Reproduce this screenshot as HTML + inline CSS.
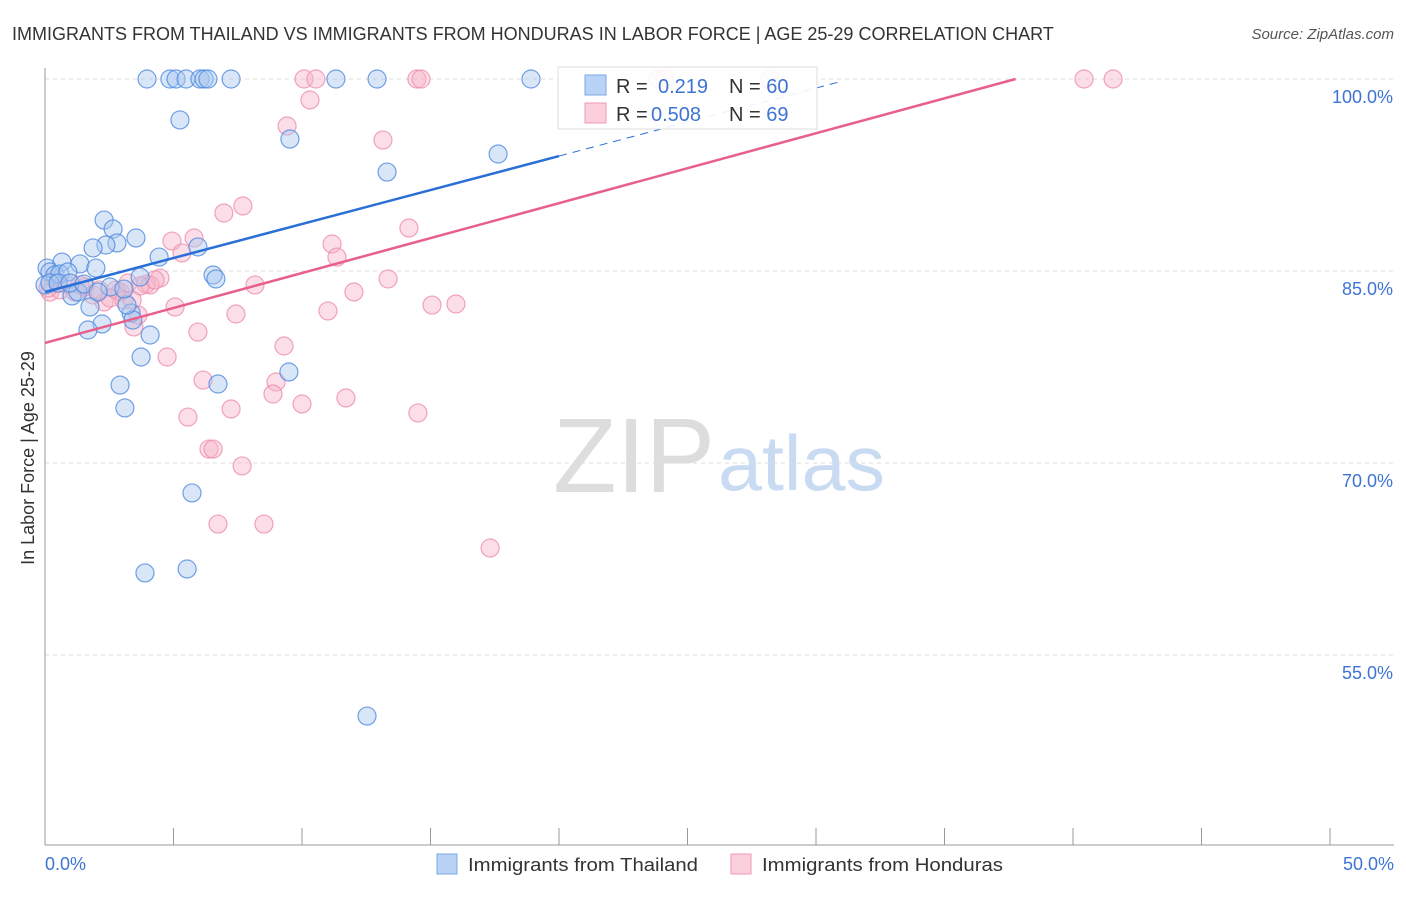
<!DOCTYPE html>
<html><head><meta charset="utf-8"><style>
body{margin:0;background:#fff;font-family:"Liberation Sans",sans-serif;}
svg text{font-family:"Liberation Sans",sans-serif;}
</style></head><body>
<svg id="chart" width="1406" height="892">
<text x="12" y="40" font-size="18" fill="#333">IMMIGRANTS FROM THAILAND VS IMMIGRANTS FROM HONDURAS IN LABOR FORCE | AGE 25-29 CORRELATION CHART</text>
<text x="1394" y="39" font-size="15" fill="#555" font-style="italic" text-anchor="end">Source: ZipAtlas.com</text>
<text x="553" y="492" font-size="106" fill="#ddd" font-family="Liberation Serif,serif" textLength="162" lengthAdjust="spacingAndGlyphs">ZIP</text>
<text x="718" y="490" font-size="78" fill="#c9daf3" textLength="167" lengthAdjust="spacingAndGlyphs">atlas</text>
<g id="grid"></g><g id="marks"></g>
<text transform="translate(34,458) rotate(-90)" font-size="18" fill="#333" text-anchor="middle">In Labor Force | Age 25-29</text>
<text x="45" y="870" font-size="18" fill="#3d74d4">0.0%</text>
<text x="1394" y="870" font-size="18" fill="#3d74d4" text-anchor="end">50.0%</text>
<g>
<rect x="437" y="854" width="20" height="20" fill="#b8d3f5" stroke="#7aa7e6"/>
<text x="468" y="871" font-size="18" fill="#333" textLength="230" lengthAdjust="spacingAndGlyphs">Immigrants from Thailand</text>
<rect x="731" y="854" width="20" height="20" fill="#fbcfdb" stroke="#f09ab4"/>
<text x="762" y="871" font-size="18" fill="#333" textLength="241" lengthAdjust="spacingAndGlyphs">Immigrants from Honduras</text>
</g>
<g>
<rect x="558" y="67" width="259" height="62" fill="#fff" fill-opacity="0.9" stroke="#ddd"/>
<rect x="585" y="75" width="21" height="20" fill="#b8d3f5" stroke="#7aa7e6"/>
<rect x="585" y="103" width="21" height="20" fill="#fbcfdb" stroke="#f09ab4"/>
<text x="616" y="93" font-size="20" fill="#333">R = <tspan x="658" fill="#3d74d4">0.219</tspan><tspan x="729">N = </tspan><tspan fill="#3d74d4">60</tspan></text>
<text x="616" y="121" font-size="20" fill="#333">R = <tspan x="651" fill="#3d74d4">0.508</tspan><tspan x="729">N = </tspan><tspan fill="#3d74d4">69</tspan></text>
</g>
</svg>
<script>
const yTicks=[100,85,70,55];
const yTickLabels=["100.0%","85.0%","70.0%","55.0%"];
const thaiPx=[[147,79],[170,79],[176,79],[186,79],[200,79],[204,79],[208,79],[231,79],[336,79],[377,79],[531,79],[180,120],[290,139],[387,172],[498,154],[104,220],[113,229],[117,243],[106,245],[93,248],[136,238],[159,257],[198,247],[213,275],[216,279],[80,264],[62,262],[47,268],[50,272],[55,275],[60,274],[68,272],[96,268],[140,277],[45,285],[72,296],[78,292],[90,307],[102,324],[88,330],[131,313],[133,320],[127,305],[150,335],[141,357],[120,385],[125,408],[218,384],[289,372],[192,493],[187,569],[145,573],[367,716],[50,283],[58,283],[70,283],[84,284],[110,287],[124,289],[98,292]];
const hondPx=[[304,79],[316,79],[417,79],[421,79],[658,79],[665,79],[770,79],[1084,79],[1113,79],[310,100],[287,126],[383,140],[243,206],[224,213],[409,228],[172,241],[194,238],[332,244],[337,257],[182,253],[388,279],[255,285],[160,278],[146,284],[354,292],[432,305],[456,304],[328,311],[236,314],[175,307],[198,332],[120,292],[104,302],[134,327],[138,315],[167,357],[284,346],[203,380],[276,382],[273,394],[346,398],[302,404],[231,409],[418,413],[188,417],[209,449],[213,449],[242,466],[218,524],[264,524],[490,548],[50,292],[60,290],[75,292],[85,287],[93,295],[116,290],[128,283],[150,285],[55,280],[48,288],[66,284],[110,298],[99,290],[124,300],[140,286],[155,280],[80,285],[132,300]];
const thaiX=thaiPx.map(p=>+((p[0]-45)/25.7).toFixed(2));
const thaiY=thaiPx.map(p=>+(100-(p[1]-79)/12.8).toFixed(2));
const hondX=hondPx.map(p=>+((p[0]-45)/25.7).toFixed(2));
const hondY=hondPx.map(p=>+(100-(p[1]-79)/12.8).toFixed(2));
const thaiFit=[83.36,0.531];
const hondFit=[79.38,0.546];
const X=v=>45+v*25.7, Y=v=>79+(100-v)*12.8;
const NS="http://www.w3.org/2000/svg";
function mk(t,a,par){const e=document.createElementNS(NS,t);for(const k in a)e.setAttribute(k,a[k]);par.appendChild(e);return e;}
const g=document.getElementById('grid'), m=document.getElementById('marks');
yTicks.forEach((t,i)=>{
 const l=mk('line',{x1:45,x2:1394,y1:Y(t),y2:Y(t),stroke:'#ddd','stroke-dasharray':'4,4'},g);
 
 
 const tx=mk('text',{x:1393,y:Y(t)+24,'font-size':18,fill:'#3d74d4','text-anchor':'end'},g);
 tx.textContent=yTickLabels[i];
 
 
});
const ax=mk('line',{x1:45,x2:45,y1:68,y2:845,stroke:'#999'},g);


const bx=mk('line',{x1:45,x2:1394,y1:845,y2:845,stroke:'#999'},g);


for(let i=0;i<=10;i++){const t=mk('line',{x1:X(i*5),x2:X(i*5),y1:828,y2:845,stroke:'#999'},g);
 
 }
function dots(xs,ys,fill,stroke,name){xs.forEach((x,i)=>{const c=mk('circle',{cx:X(x),cy:Y(ys[i]),r:9,fill:fill,'fill-opacity':0.45,stroke:stroke,'stroke-width':1.2,'stroke-opacity':0.8},m);
 
 });}
dots(hondX,hondY,'#f7b6c9','#ee8fab','honduras-point');
dots(thaiX,thaiY,'#a9c8f0','#4f8ae0','thailand-point');
const f1=mk('line',{x1:X(0),y1:Y(thaiFit[0]),x2:X(20),y2:Y(thaiFit[0]+20*thaiFit[1]),stroke:'#2a6fd6','stroke-width':2.5},m);


const f1d=mk('line',{x1:X(20),y1:Y(thaiFit[0]+20*thaiFit[1]),x2:X(30.9),y2:Y(thaiFit[0]+30.9*thaiFit[1]),stroke:'#2a6fd6','stroke-width':1,'stroke-dasharray':'8,6'},m);


const xe=(100-hondFit[0])/hondFit[1];
const f2=mk('line',{x1:X(0),y1:Y(hondFit[0]),x2:X(xe),y2:Y(100),stroke:'#e8608a','stroke-width':2.5},m);


</script>
</body></html>
